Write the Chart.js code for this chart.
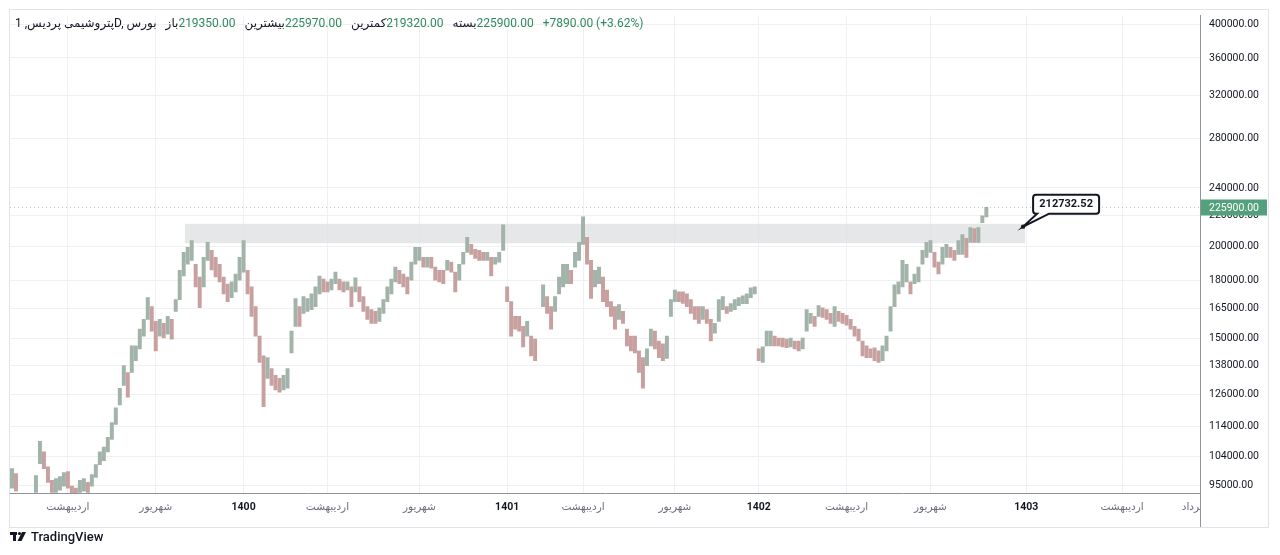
<!DOCTYPE html>
<html>
<head>
<meta charset="utf-8">
<script src="https://cdn.jsdelivr.net/npm/chart.js@4.4.1/dist/chart.umd.min.js"></script>
<style>
html, body { margin: 0; padding: 0; background: #fff; }
</style>
</head>
<body>
<canvas id="chart" width="1280" height="555"></canvas>
<script>
// price ranges per time slot, thousands of rials (null = no trading)
var highK = [100.0, 98.5, 92.5, 91, 90, 92.5, 97.9, 108.9, 105.4, 100.6,
  96.4, 97.0, 97.6, 98.8, 99.1, 94.7, 94.1, 96.4, 97.0, 95.8,
  98.2, 101.3, 105.4, 107.0, 110.3, 115.5, 120.9, 128.5, 137.9, 135.0,
  146.7, 146.7, 154.5, 159.3, 170.5, 165.8, 158.3, 159.3, 157.3, 160.8,
  159.3, 169.4, 185.7, 196.3, 199.4, 203.7, 189.2, 181.8, 193.3, 202.5,
  197.6, 193.3, 189.2, 181.8, 177.9, 179.1, 183.5, 193.3, 203.7, 185.7,
  176.3, 165.8, 151.2, 142.2, 141.4, 136.6, 133.8, 132.5, 133.8, 136.6,
  153.6, 170.0, 165.8, 171.0, 170.0, 172.5, 176.3, 182.4, 180.6, 179.1,
  180.6, 184.6, 180.6, 179.1, 179.1, 176.3, 181.3, 176.3, 171.0, 165.8,
  164.2, 163.3, 165.2, 169.4, 176.3, 180.6, 187.5, 185.7, 183.5, 181.8,
  190.4, 199.4, 199.4, 193.3, 193.3, 193.3, 187.5, 185.7, 185.7, 191.5,
  190.4, 184.6, 189.2, 196.3, 205.7, 201.3, 198.2, 197.6, 196.3, 196.3,
  193.3, 193.3, 196.3, 214.0, 176.3, 168.4, 160.8, 160.8, 155.9, 158.3,
  151.2, 149.8, null, 177.4, 171.0, 165.8, 171.0, 181.8, 189.2, 189.2,
  185.7, 196.3, 202.5, 219.3, 205.7, 191.5, 185.7, 187.5, 181.8, 174.6,
  168.4, 165.8, 166.8, 163.3, 154.5, 151.2, 151.2, 144.4, 141.4, 145.3,
  154.5, 153.6, 148.9, 147.6, 151.2, 169.4, 174.6, 173.6, 173.6, 172.5,
  169.4, 165.8, 165.8, 165.8, 164.2, 159.3, 157.3, 169.4, 171.0, 165.8,
  167.4, 169.4, 170.5, 171.5, 172.5, 175.8, 176.3, 145.3, 146.2, 153.6,
  153.6, 151.2, 150.3, 150.3, 149.8, 150.3, 148.9, 148.9, 150.3, 164.2,
  162.3, 160.8, 166.3, 165.2, 164.2, 162.3, 165.8, 163.3, 162.3, 161.3,
  159.3, 155.9, 154.5, 148.9, 146.7, 145.3, 145.8, 144.4, 146.7, 151.2,
  165.8, 177.4, 179.1, 191.5, 189.2, 179.1, 183.5, 187.5, 197.6, 202.5,
  203.7, 196.3, 190.4, 199.4, 201.3, 199.4, 197.6, 203.7, 207.6, 205.1,
  212.1, 211.5, 212.1, 220.0, 225.97];
var lowK = [94.1, 93.2, 89, 87, 86.5, 88, 92.9, 101.6, 100.0, 95.8,
  92.9, 92.9, 93.5, 94.7, 94.1, 92.3, 91.7, 92.9, 93.2, 92.9,
  94.7, 97.3, 101.3, 102.5, 105.4, 109.6, 114.8, 122.0, 129.7, 125.0,
  135.0, 140.1, 145.3, 151.2, 159.3, 153.6, 144.4, 151.2, 150.3, 152.1,
  149.8, 163.3, 169.4, 182.4, 189.2, 191.5, 176.3, 165.2, 176.3, 191.5,
  185.8, 181.8, 179.1, 172.5, 168.4, 170.5, 173.6, 180.0, 184.6, 172.5,
  160.8, 151.2, 139.3, 121.3, 132.5, 129.7, 127.8, 127.0, 127.8, 128.5,
  143.5, 155.9, 155.9, 162.3, 163.3, 164.2, 165.8, 172.5, 173.6, 173.6,
  174.6, 178.0, 174.6, 173.6, 174.6, 165.8, 173.6, 168.4, 163.3, 159.3,
  157.3, 157.3, 158.3, 162.3, 168.4, 172.5, 179.1, 178.0, 176.3, 172.5,
  180.0, 189.2, 191.5, 187.5, 187.5, 186.9, 180.0, 179.1, 178.0, 185.7,
  184.6, 173.6, 180.0, 189.2, 196.3, 195.1, 192.7, 191.5, 191.5, 191.5,
  182.4, 189.2, 190.4, 197.6, 168.4, 151.2, 154.5, 153.6, 146.2, 151.2,
  142.2, 140.1, null, 165.8, 162.3, 154.5, 163.3, 172.5, 176.3, 178.0,
  178.0, 187.5, 191.5, 201.3, 189.2, 170.0, 176.3, 178.0, 168.4, 165.8,
  160.8, 154.5, 159.3, 157.3, 146.7, 144.4, 143.5, 135.0, 128.5, 137.9,
  146.7, 145.3, 141.4, 140.1, 141.0, 160.8, 168.4, 168.4, 167.4, 165.8,
  162.3, 159.3, 157.3, 159.3, 157.3, 148.9, 152.6, 158.3, 164.2, 162.3,
  163.3, 164.2, 166.3, 167.3, 167.3, 170.5, 172.5, 140.1, 139.3, 146.7,
  146.7, 146.7, 146.7, 146.2, 145.8, 146.2, 145.3, 144.4, 145.3, 153.6,
  157.3, 155.9, 160.8, 160.3, 159.3, 157.3, 155.9, 158.3, 157.3, 156.4,
  154.5, 151.2, 148.9, 142.2, 141.4, 141.4, 140.1, 139.3, 140.1, 144.4,
  153.6, 165.8, 172.5, 176.3, 179.1, 172.5, 178.0, 179.1, 189.2, 193.3,
  196.3, 187.5, 183.5, 189.2, 193.3, 193.3, 191.5, 195.1, 195.1, 193.3,
  202.5, 202.5, 202.5, 215.4, 219.32];

var slotCount = 298;               // time slots across the visible pane (incl. future)
var priceTicks = [95000, 104000, 114000, 126000, 138000, 150000, 165000, 180000,
  200000, 220000, 240000, 280000, 320000, 360000, 400000];
var timeTickSlots = [14, 36, 58, 79, 102, 124, 143, 166, 187, 209, 230, 254, 278, 296];
var timeTickLabels = ['اردیبهشت', 'شهریور', '1400', 'اردیبهشت', 'شهریور', '1401',
  'اردیبهشت', 'شهریور', '1402', 'اردیبهشت', 'شهریور', '1403', 'اردیبهشت', 'خرداد'];

var symbolTitle = 'پتروشیمی پردیس, 1D, بورس';
var ohlcNames = ['باز', 'بیشترین', 'کمترین', 'بسته'];
var ohlcValues = [219350, 225970, 219320, 225900];
var dayChange = 7890;
var dayChangePct = 3.62;
var lastPrice = 225900;

var zoneFrom = 43.3, zoneTo = 253.7;     // slots
var zoneLow = 202000, zoneHigh = 214600;
var calloutSlot = 253.2;
var calloutValue = 212732.52;

var FONT = 'Roboto, "DejaVu Sans", sans-serif';
var DARK = '#131722';
var GREEN = '#2f8a5e';

var slots = [];
for (var i = 0; i < slotCount; i++) slots.push(i);
var ranges = highK.map(function (h, i) {
  return h == null ? null : [lowK[i] * 1000, h * 1000];
});
var tickText = {};
timeTickSlots.forEach(function (s, i) { tickText[s] = timeTickLabels[i]; });

function mid(i) { return ranges[i] ? (ranges[i][0] + ranges[i][1]) / 2 : null; }

var overlay = {
  id: 'overlay',
  beforeDatasetsDraw: function (chart) {
    var c = chart.ctx, x = chart.scales.x, y = chart.scales.y;
    var x0 = x.getPixelForValue(zoneFrom), x1 = x.getPixelForValue(zoneTo);
    var y0 = y.getPixelForValue(zoneHigh), y1 = y.getPixelForValue(zoneLow);
    c.save();
    c.fillStyle = 'rgba(222,223,226,0.75)';
    c.fillRect(x0, y0, x1 - x0, y1 - y0);
    c.restore();
  },
  afterDraw: function (chart) {
    var c = chart.ctx, x = chart.scales.x, y = chart.scales.y, a = chart.chartArea;
    c.save();

    // last price line + label
    var py = Math.round(y.getPixelForValue(lastPrice)) + 0.5;
    c.strokeStyle = 'rgba(60,150,110,0.4)';
    c.setLineDash([1, 3]);
    c.lineWidth = 1;
    c.beginPath(); c.moveTo(a.left, py); c.lineTo(a.right, py); c.stroke();
    c.setLineDash([]);
    c.fillStyle = '#55a07c';
    c.fillRect(a.right + 1, py - 8, 66, 16);
    c.fillStyle = '#fff';
    c.font = '10.5px ' + FONT;
    c.textBaseline = 'middle';
    c.textAlign = 'left';
    c.fillText(lastPrice.toFixed(2), a.right + 9, py + 0.5);

    // callout
    var ax = x.getPixelForValue(calloutSlot), ay = y.getPixelForValue(calloutValue);
    var bl = ax + 10, bt = ay - 32, bw = 66, bh = 19, r = 3;
    c.beginPath();
    c.moveTo(bl + r, bt);
    c.lineTo(bl + bw - r, bt); c.arcTo(bl + bw, bt, bl + bw, bt + r, r);
    c.lineTo(bl + bw, bt + bh - r); c.arcTo(bl + bw, bt + bh, bl + bw - r, bt + bh, r);
    c.lineTo(bl + 16, bt + bh);
    c.lineTo(ax, ay);
    c.lineTo(bl + 4, bt + bh);
    c.lineTo(bl + r, bt + bh); c.arcTo(bl, bt + bh, bl, bt + bh - r, r);
    c.lineTo(bl, bt + r); c.arcTo(bl, bt, bl + r, bt, r);
    c.closePath();
    c.fillStyle = '#fff'; c.fill();
    c.strokeStyle = DARK; c.lineWidth = 2; c.stroke();
    c.beginPath(); c.arc(ax, ay, 2.2, 0, Math.PI * 2); c.fillStyle = DARK; c.fill();
    c.font = 'bold 11px ' + FONT;
    c.textAlign = 'center';
    c.fillText(calloutValue.toFixed(2), bl + bw / 2, bt + bh / 2 + 0.5);

    // legend line
    c.textAlign = 'left';
    c.font = '12px ' + FONT;
    var tx = 15, ty = 23.5;
    c.fillStyle = DARK;
    c.fillText(symbolTitle, tx, ty);
    tx += c.measureText(symbolTitle).width + 9;
    for (var k = 0; k < ohlcNames.length; k++) {
      c.fillStyle = DARK;
      c.fillText(ohlcNames[k], tx, ty);
      tx += c.measureText(ohlcNames[k]).width;
      var v = ohlcValues[k].toFixed(2);
      c.fillStyle = GREEN;
      c.fillText(v, tx, ty);
      tx += c.measureText(v).width + 9;
    }
    var ch = '+' + dayChange.toFixed(2) + ' (+' + dayChangePct.toFixed(2) + '%)';
    c.fillStyle = GREEN;
    c.fillText(ch, tx, ty);

    // clear the corner under the price axis, frame lines
    c.fillStyle = '#fff';
    c.fillRect(a.right + 1, a.bottom + 1, 67, 33);
    c.strokeStyle = '#8f939c'; c.lineWidth = 1;
    c.beginPath(); c.moveTo(a.right + 0.5, a.bottom); c.lineTo(a.right + 0.5, 527); c.stroke();
    c.strokeStyle = '#e0e3eb';
    c.strokeRect(9.5, 9.5, 1259, 518);

    // logo
    c.fillStyle = DARK;
    c.fillRect(10, 532, 7, 3);
    c.fillRect(13, 532, 3, 9);
    c.beginPath(); c.arc(19.5, 533.5, 1.6, 0, Math.PI * 2); c.fill();
    c.beginPath();
    c.moveTo(22, 532); c.lineTo(26, 532); c.lineTo(21.5, 541); c.lineTo(17.5, 541);
    c.closePath(); c.fill();
    c.font = '500 13px ' + FONT;
    c.fillText('TradingView', 31, 537.5);
    c.restore();
  }
};

new Chart(document.getElementById('chart'), {
  type: 'bar',
  data: {
    labels: slots,
    datasets: [{
      data: ranges,
      barThickness: 3.3,
      backgroundColor: function (ctx) {
        var i = ctx.dataIndex, m = mid(i), p = i > 0 ? mid(i - 1) : null;
        return (p == null || m >= p) ? '#a2b3aa' : '#c9a0a0';
      }
    }]
  },
  options: {
    responsive: false,
    animation: false,
    devicePixelRatio: 1,
    layout: { padding: { left: 10, top: 10, right: 12, bottom: 28 } },
    plugins: { legend: { display: false }, tooltip: { enabled: false } },
    scales: {
      x: {
        type: 'category',
        offset: true,
        grid: {
          offset: false, drawTicks: false,
          color: function (c) { return c.tick && c.tick.value === 296 ? 'rgba(0,0,0,0)' : '#eef0f4'; }
        },
        border: { color: '#8f939c' },
        afterBuildTicks: function (s) { s.ticks = timeTickSlots.map(function (v) { return { value: v }; }); },
        afterFit: function (s) { s.height = 34; },
        ticks: {
          autoSkip: false, maxRotation: 0, padding: 8,
          callback: function (v) { return tickText[v]; },
          color: function (c) { return /^\d+$/.test(tickText[c.tick.value]) ? DARK : '#6b6f7a'; },
          font: function (c) {
            var yr = c.tick && /^\d+$/.test(tickText[c.tick.value]);
            return { family: FONT, size: 10.5, weight: yr ? 'bold' : 'normal' };
          }
        }
      },
      y: {
        type: 'logarithmic',
        position: 'right',
        min: 92700,
        max: 411200,
        afterBuildTicks: function (s) { s.ticks = priceTicks.map(function (v) { return { value: v }; }); },
        afterFit: function (s) { s.width = 68; },
        grid: { color: '#eef0f4', drawTicks: false },
        border: { color: '#8f939c' },
        ticks: {
          padding: 9, color: DARK,
          font: { family: FONT, size: 10.5 },
          callback: function (v) { return Number(v).toFixed(2); }
        }
      }
    }
  },
  plugins: [overlay]
});
</script>
</body>
</html>
